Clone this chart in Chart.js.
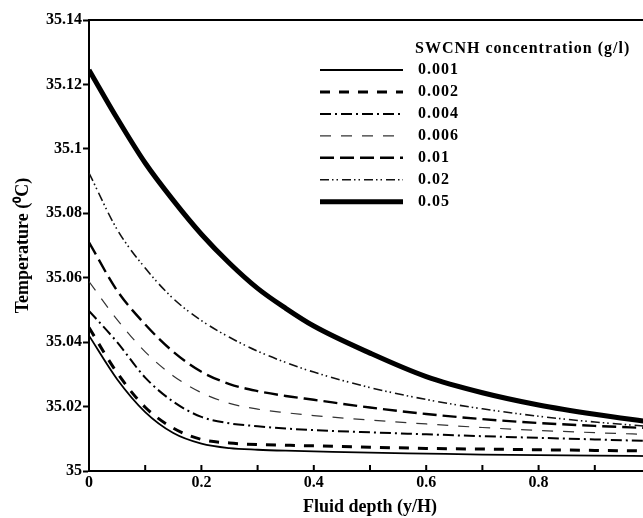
<!DOCTYPE html>
<html><head><meta charset="utf-8">
<script src="https://cdn.jsdelivr.net/npm/chart.js@4/dist/chart.umd.min.js"></script>
<style>
html,body{margin:0;padding:0;overflow:hidden;background:#fff;width:643px;height:518px}
#wrap{position:absolute;left:0;top:0;width:700px;height:518px}
</style>
</head><body><div id="wrap"><canvas id="c" width="700" height="518"></canvas></div>
<script>
// ---- data ----
const depth  = [0, 0.05, 0.1, 0.15, 0.2, 0.25, 0.3, 0.35, 0.4, 0.5, 0.6, 0.7, 0.8, 0.9, 1.0];
const t0001  = [35.042, 35.0285, 35.0183, 35.0118, 35.0085, 35.0071, 35.0066, 35.0063, 35.0061, 35.0057, 35.0054, 35.0051, 35.0049, 35.0048, 35.0046];
const t0002  = [35.0445, 35.0305, 35.0198, 35.0133, 35.0098, 35.0087, 35.0082, 35.0080, 35.0078, 35.0074, 35.0070, 35.0068, 35.0066, 35.0064, 35.0062];
const t0004  = [35.0497, 35.040, 35.029, 35.0215, 35.0168, 35.0148, 35.0139, 35.0132, 35.0127, 35.0120, 35.0114, 35.0108, 35.0103, 35.0098, 35.0093];
const t0006  = [35.0588, 35.047, 35.037, 35.0295, 35.0243, 35.021, 35.0192, 35.0181, 35.0172, 35.0158, 35.0146, 35.0135, 35.0126, 35.0119, 35.0113];
const t001   = [35.071, 35.056, 35.0455, 35.037, 35.0308, 35.027, 35.0248, 35.0233, 35.0221, 35.0197, 35.0177, 35.0161, 35.0149, 35.0140, 35.0133];
const t002   = [35.0925, 35.075, 35.063, 35.0535, 35.0467, 35.0415, 35.0372, 35.0337, 35.0307, 35.0259, 35.0222, 35.0193, 35.0170, 35.0152, 35.0138];
const t005   = [35.1245, 35.1095, 35.0956, 35.084, 35.0735, 35.0645, 35.0567, 35.0505, 35.045, 35.0366, 35.0293, 35.0243, 35.0205, 35.0176, 35.0152];
const seriesLabels = ['0.001', '0.002', '0.004', '0.006', '0.01', '0.02', '0.05'];
const xTickLabels = ['0', '0.2', '0.4', '0.6', '0.8', '1'];
const yTickLabels = ['35', '35.02', '35.04', '35.06', '35.08', '35.1', '35.12', '35.14'];
const legendTitle = 'SWCNH concentration (g/l)';
const xTitle = 'Fluid depth (y/H)';
const yTitle = 'Temperature (\u2070C)';

// ---- styles ----
const seriesValues = [t0001, t0002, t0004, t0006, t001, t002, t005];
const styles = [
  {w: 1.8, dash: [], color: '#000'},
  {w: 3, dash: [10, 9], color: '#000'},
  {w: 2, dash: [11, 4, 2, 4], color: '#000'},
  {w: 1.2, dash: [11, 10], color: '#333'},
  {w: 2.4, dash: [14, 6], color: '#000'},
  {w: 1.6, dash: [9, 3, 1.5, 3, 1.5, 4], color: '#111'},
  {w: 5, dash: [], color: '#000'}
];

const FONT = '"Liberation Serif", "Times New Roman", serif';
Chart.defaults.font.family = FONT;
Chart.defaults.color = '#000';

const datasets = seriesValues.map((vals, i) => ({
  label: seriesLabels[i],
  data: vals.map((v, j) => ({x: depth[j], y: v})),
  borderColor: styles[i].color,
  borderWidth: styles[i].w,
  borderDash: styles[i].dash,
  pointRadius: 0,
  fill: false,
  cubicInterpolationMode: 'monotone'
}));

const extras = {
  id: 'extras',
  afterDraw(chart) {
    const ctx = chart.ctx, ca = chart.chartArea, xs = chart.scales.x;
    ctx.save();
    ctx.strokeStyle = '#000';
    ctx.lineWidth = 2;
    ctx.setLineDash([]);
    // top frame line
    ctx.beginPath();
    ctx.moveTo(ca.left, ca.top);
    ctx.lineTo(ca.right + 10, ca.top);
    ctx.stroke();
    // inward x ticks (major & minor)
    for (let k = 0; k <= 10; k++) {
      const px = xs.getPixelForValue(k / 10);
      ctx.beginPath();
      ctx.moveTo(px, ca.bottom);
      ctx.lineTo(px, ca.bottom - 6);
      ctx.stroke();
    }
    // legend
    ctx.fillStyle = '#000';
    ctx.font = 'bold 16px ' + FONT;
    ctx.letterSpacing = '1px';
    ctx.textBaseline = 'middle';
    ctx.textAlign = 'left';
    ctx.fillText(legendTitle, 415, 49);
    chart.data.datasets.forEach((ds, i) => {
      const y = 70 + i * 21.95;
      ctx.beginPath();
      ctx.setLineDash(ds.borderDash || []);
      ctx.lineWidth = ds.borderWidth;
      ctx.strokeStyle = ds.borderColor;
      ctx.moveTo(320, y);
      ctx.lineTo(403, y);
      ctx.stroke();
      ctx.setLineDash([]);
      ctx.fillText(ds.label, 418, y);
    });
    ctx.restore();
  }
};

new Chart(document.getElementById('c'), {
  type: 'line',
  data: {datasets},
  options: {
    responsive: false,
    animation: false,
    layout: {padding: {top: 20, right: 49, left: 0, bottom: 0}},
    plugins: {legend: {display: false}, tooltip: {enabled: false}},
    scales: {
      x: {
        type: 'linear', min: 0, max: 1,
        afterFit: s => { s.height = 47; },
        grid: {drawOnChartArea: false, drawTicks: false},
        border: {display: true, color: '#000', width: 2},
        ticks: {
          stepSize: 0.2, padding: 2, maxRotation: 0, autoSkip: false,
          font: {size: 16, weight: 'bold'},
          callback: (v, i) => xTickLabels[i]
        },
        title: {display: true, text: xTitle, font: {size: 18, weight: 'bold'}, padding: {top: 0, bottom: 0}}
      },
      y: {
        type: 'linear', min: 35, max: 35.14,
        afterFit: s => { s.width = 89; },
        grid: {drawOnChartArea: false, drawTicks: true, tickLength: 6, tickWidth: 2, tickColor: '#000'},
        border: {display: true, color: '#000', width: 2},
        ticks: {
          stepSize: 0.02, padding: 1, autoSkip: false,
          font: {size: 16, weight: 'bold'},
          callback: (v, i) => yTickLabels[i]
        },
        title: {display: true, text: yTitle, font: {size: 18, weight: 'bold'}, padding: {top: 13, bottom: 0}}
      }
    }
  },
  plugins: [extras]
});
</script>
</body></html>
